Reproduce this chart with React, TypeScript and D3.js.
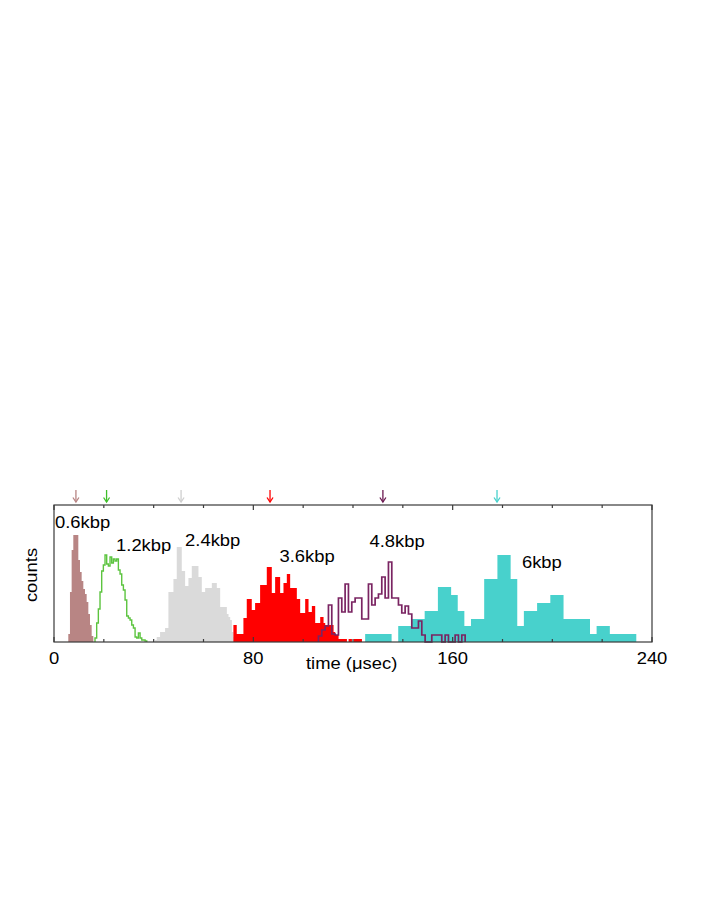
import React from "react";
import * as d3 from "d3";

// ---- data (time in µsec, counts in arbitrary units) ----
const seriesNames = ["0.6kbp", "1.2kbp", "2.4kbp", "3.6kbp", "4.8kbp", "6kbp"];

const brownStart = 5.74;
const brownWidth = 0.67;
const brownCounts = [8, 50, 92, 107, 107, 107, 82, 70, 61, 53, 48, 40, 28, 17, 6];

const greenStart = 16.46;
const greenWidth = 0.67;
const greenCounts = [4, 19, 33, 50, 71, 77, 87, 78, 76, 85, 79, 83, 81, 83, 72, 68, 57, 52, 42, 26, 24, 22, 17, 14, 5, 4, 9, 4, 2, 2, 1];

const grayStart = 40.56;
const grayWidth = 0.67;
const grayCounts = [2, 5, 5, 10, 10, 10, 14, 14, 50, 50, 50, 63, 63, 95, 95, 95, 71, 71, 56, 56, 64, 64, 76, 76, 76, 76, 65, 65, 50, 50, 54, 54, 54, 54, 59, 59, 59, 54, 54, 35, 35, 35, 35, 28, 25, 22, 10, 5, 5, 4, 4, 4, 4, 4];

const redStart = 72.0;
const redWidth = 0.67;
const redCounts = [17, 17, 8, 8, 8, 8, 24, 24, 43, 43, 43, 32, 32, 39, 39, 39, 57, 57, 57, 57, 75, 75, 75, 49, 49, 65, 65, 65, 49, 49, 59, 59, 68, 68, 54, 54, 54, 54, 43, 43, 29, 29, 29, 43, 43, 30, 30, 36, 36, 19, 19, 19, 25, 25, 19, 17, 17, 17, 17, 17, 10, 7, 7, 3, 3, 3, 3, 3, 0, 3, 3, 0, 3, 3, 3, 3, 3];

const purpleStart = 106.13;
const purpleWidth = 1.338;
const purpleCounts = [6, 12, 16, 37, 8, 7, 44, 30, 58, 30, 40, 44, 44, 23, 23, 58, 37, 44, 48, 65, 44, 80, 44, 44, 37, 29, 36, 28, 14, 14, 21, 7, 0, 0, 7, 7, 7, 0, 7, 0, 0, 7, 0, 7];

const cyanStart = 124.88;
const cyanWidth = 2.654;
const cyanCounts = [8, 8, 8, 8, 0, 16, 16, 23, 23, 31, 31, 55, 55, 47, 31, 16, 23, 23, 63, 63, 87, 87, 63, 16, 31, 31, 39, 39, 47, 47, 23, 23, 23, 23, 8, 16, 16, 8, 8, 8, 8];

// expected positions marked by arrows (µsec)
const arrowTimes = [8.8, 21.1, 51.0, 86.7, 132.0, 177.8];

const xDomain = [0, 240];
const xTickLabels = [0, 80, 160, 240];

// ---- layout / styles ----
const W = 706;
const H = 913;
const frame = { left: 54, right: 652, top: 505, bottom: 642 };
const FONT = "'Liberation Sans', Arial, Helvetica, sans-serif";
const FS = 16;
const SX = 1.15;

const colors = {
  brown: "#b88584",
  green: "#5cc43f",
  gray: "#dadada",
  red: "#ff0000",
  purple: "#7a2462",
  cyan: "#48d1cc",
};
const arrowColors = ["#b88584", "#3fbf2a", "#cfcfcf", "#ff0000", "#6b1850", "#48d1cc"];

// label anchors: [time, count-level]
const labelAnchors = [
  [0.4, 114],
  [24.9, 91],
  [52.6, 96.3],
  [90.5, 79.7],
  [126.6, 95.3],
  [187.8, 73.7],
];

export default function App() {
  const x = d3.scaleLinear().domain(xDomain).range([frame.left, frame.right]);
  const y = d3.scaleLinear().domain([0, 137]).range([frame.bottom, frame.top]);

  const line = d3
    .line<[number, number]>()
    .x((d) => x(d[0]))
    .y((d) => y(d[1]))
    .curve(d3.curveStepAfter);

  const stepPath = (start: number, width: number, counts: number[]) => {
    const pts: [number, number][] = [[start, 0]];
    counts.forEach((c, i) => pts.push([start + i * width, c]));
    const end = start + counts.length * width;
    pts.push([end, counts[counts.length - 1]]);
    pts.push([end, 0]);
    return line(pts) || "";
  };

  const ticks = x.ticks(12);

  const txt = (
    key: string,
    content: string,
    tx: number,
    ty: number,
    anchor: string = "start",
    rotate = 0
  ) => (
    <text
      key={key}
      transform={`translate(${tx},${ty}) rotate(${rotate}) scale(${SX},1)`}
      textAnchor={anchor}
      fontFamily={FONT}
      fontSize={FS}
      fill="#000"
    >
      {content}
    </text>
  );

  return (
    <svg
      width={W}
      height={H}
      style={{ position: "absolute", left: 0, top: 0, background: "#fff" }}
    >
      <rect x={0} y={0} width={W} height={H} fill="#fff" />
      {/* histograms */}
      <path d={stepPath(grayStart, grayWidth, grayCounts)} fill={colors.gray} stroke="none" />
      <path d={stepPath(redStart, redWidth, redCounts)} fill={colors.red} stroke="none" />
      <path d={stepPath(brownStart, brownWidth, brownCounts)} fill={colors.brown} stroke="none" />
      <path
        d={stepPath(greenStart, greenWidth, greenCounts)}
        fill="none"
        stroke={colors.green}
        strokeWidth={1.4}
      />
      <path d={stepPath(cyanStart, cyanWidth, cyanCounts)} fill={colors.cyan} stroke="none" />
      <path
        d={stepPath(purpleStart, purpleWidth, purpleCounts)}
        fill="none"
        stroke={colors.purple}
        strokeWidth={1.7}
      />

      {/* frame */}
      <rect
        x={frame.left}
        y={frame.top}
        width={frame.right - frame.left}
        height={frame.bottom - frame.top}
        fill="none"
        stroke="#3a3a3a"
        strokeWidth={1.2}
      />
      {ticks.map((t) => {
        const len = t % 80 === 0 ? 5 : 3;
        const xx = x(t);
        return (
          <g key={`tk${t}`} stroke="#3a3a3a" strokeWidth={1.2}>
            <line x1={xx} x2={xx} y1={frame.top} y2={frame.top + len} />
            <line x1={xx} x2={xx} y1={frame.bottom} y2={frame.bottom - len} />
          </g>
        );
      })}

      {/* arrows */}
      {arrowTimes.map((t, i) => {
        const xx = x(t);
        return (
          <g key={`ar${i}`} stroke={arrowColors[i]} strokeWidth={1.3} fill="none">
            <line x1={xx} x2={xx} y1={490} y2={502} />
            <path d={`M${xx - 3},${497.5}L${xx},${502}L${xx + 3},${497.5}`} />
          </g>
        );
      })}

      {/* tick labels */}
      {xTickLabels.map((t) => txt(`tl${t}`, String(t), x(t), 663.5, "middle"))}

      {/* axis titles */}
      {txt("xt", "time (μsec)", 306, 669, "start")}
      {txt("yt", "counts", 36.5, 575, "middle", -90)}

      {/* series labels */}
      {seriesNames.map((n, i) =>
        txt(`sl${i}`, n, x(labelAnchors[i][0]), y(labelAnchors[i][1]), "start")
      )}
    </svg>
  );
}
